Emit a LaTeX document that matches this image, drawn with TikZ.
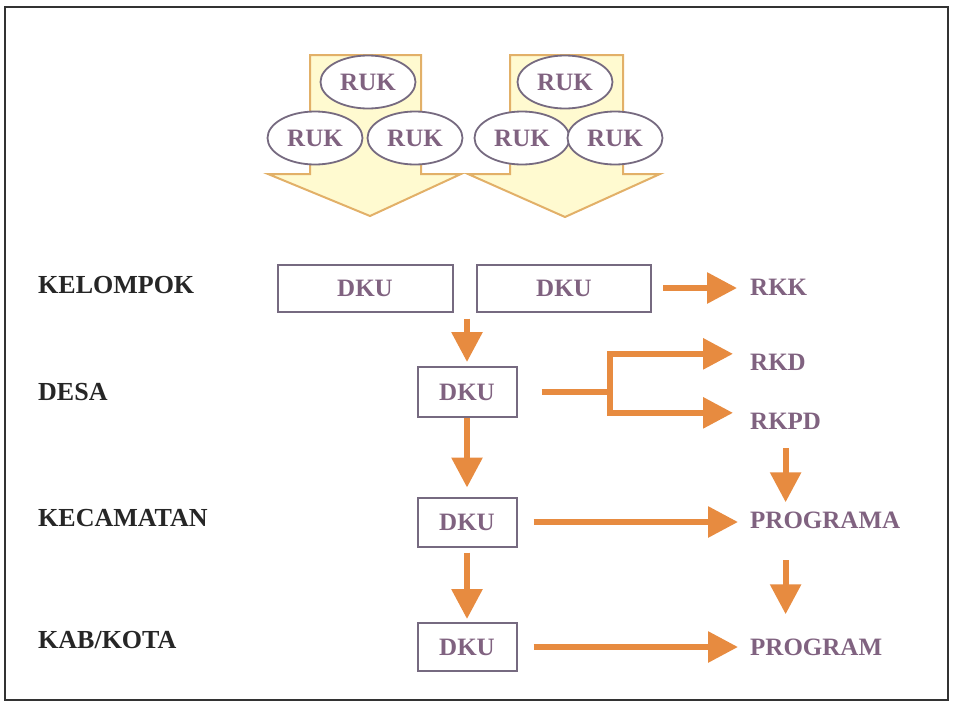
\documentclass[tikz,border=0pt]{standalone}
\usepackage{fontspec}
\setmainfont{Liberation Serif}
\usetikzlibrary{
	arrows.meta,
	positioning,
	shapes.geometric
}
\definecolor{main}{RGB}{128,98,128}
\definecolor{second}{RGB}{231,139,64}
\definecolor{third}{RGB}{255,250,208}
\definecolor{fourth}{RGB}{226,176,104}
\definecolor{fifth}{RGB}{118,106,128}
\tikzset{
  % arrow
	cstoa/.style      ={-{Triangle[length=30pt,width=30pt]}, second, line width=6pt}, % orange arrow
	cstoline/.style   ={second, line width=6pt},
  % fill
	cstbig/.style     ={fill=third, draw=fourth, line width=2pt}, % big arrow
  % node
	cstbox/.style     ={draw=fifth, line width=2pt, text=main, inner sep=0pt},
	cstruk/.style     ={ellipse, draw=fifth, fill=white, line width=1.8pt, text=main, minimum width=95pt, minimum height=53pt, inner sep=0pt},
	cstlevel/.style   ={anchor=base west, text=black!85, inner sep=0pt, font=\fontsize{26}{30}\selectfont\bfseries},
	cstplan/.style    ={anchor=base west, text=main, inner sep=0pt}
}

\begin{document}
\begin{tikzpicture}[x=1pt,y=-1pt,font=\fontsize{25}{30}\selectfont\bfseries]
	\useasboundingbox (0,0) rectangle (955,702);
	\draw[line width=2pt, black!80] (5,7) rectangle (948,700);
	% big arrows
	\draw[cstbig] (310,55)--(421,55)--(421,174)--(461,174)--(370,216)--(268,174)--(310,174)--cycle;
	\draw[cstbig] (510,55)--(623,55)--(623,174)--(660,174)--(565,217)--(468,174)--(510,174)--cycle;
	\node[cstruk] (ruk1) at (368,82) {RUK};
	\node[cstruk] (ruk2) at (315,138) {RUK};
	\node[cstruk] (ruk3) at (415,138) {RUK};
	\node[cstruk] (ruk4) at (565,82) {RUK};
	\node[cstruk] (ruk5) at (522,138) {RUK};
	\node[cstruk] (ruk6) at (615,138) {RUK};
	% levels
	\node[cstlevel] (kelompok) at (38,293) {KELOMPOK};
	\node[cstlevel] (desa) at (38,400) {DESA};
	\node[cstlevel] (kecamatan) at (38,526) {KECAMATAN};
	\node[cstlevel] (kabkota) at (38,648) {KAB/KOTA};
	% DKU
	\node[cstbox, minimum width=175pt, minimum height=47pt] (dku1) at (365,288) {DKU};
	\node[cstbox, minimum width=174pt, minimum height=47pt] (dku2) at (564,288) {DKU};
	\node[cstbox, minimum width=99pt, minimum height=50pt] (dku3) at (467,392) {DKU};
	\node[cstbox, minimum width=99pt, minimum height=49pt] (dku4) at (467,522) {DKU};
	\node[cstbox, minimum width=99pt, minimum height=48pt] (dku5) at (467,647) {DKU};
	% plans
	\node[cstplan] (rkk) at (750,295) {RKK};
	\node[cstplan] (rkd) at (750,370) {RKD};
	\node[cstplan] (rkpd) at (750,429) {RKPD};
	\node[cstplan] (programa) at (750,528) {PROGRAMA};
	\node[cstplan] (program) at (750,655) {PROGRAM};
	\coordinate (fork) at (610,392);
	% arrows
	\draw[cstoa, shorten <=6pt, shorten >=4pt] (dku1.south -| dku3.north) -- (dku3.north);
	\draw[cstoa, shorten >=9pt] (dku3.south) -- (dku4.north);
	\draw[cstoa, shorten <=5pt, shorten >=3pt] (dku4.south) -- (dku5.north);
	\draw[cstoa, shorten <=11pt, shorten >=13pt] (dku2.east) -- (dku2.east -| rkk.west);
	\draw[cstoline, shorten <=24pt] (dku3.east) -- (fork);
	\draw[cstoa, shorten >=17pt] (fork) |- ([yshift=8pt]rkd.west);
	\draw[cstoa, shorten >=17pt] (fork) |- ([yshift=8pt]rkpd.west);
	\draw[cstoa, shorten <=16pt, shorten >=12pt] (dku4.east) -- (dku4.east -| programa.west);
	\draw[cstoa, shorten <=16pt, shorten >=12pt] (dku5.east) -- (dku5.east -| program.west);
	\draw[cstoa, shorten <=19pt, shorten >=9pt] (rkpd.south) -- (rkpd.south |- programa.north);
	\draw[cstoa, shorten <=32pt, shorten >=24pt] (rkpd.south |- programa.south) -- (rkpd.south |- program.north);
\end{tikzpicture}
\end{document}
